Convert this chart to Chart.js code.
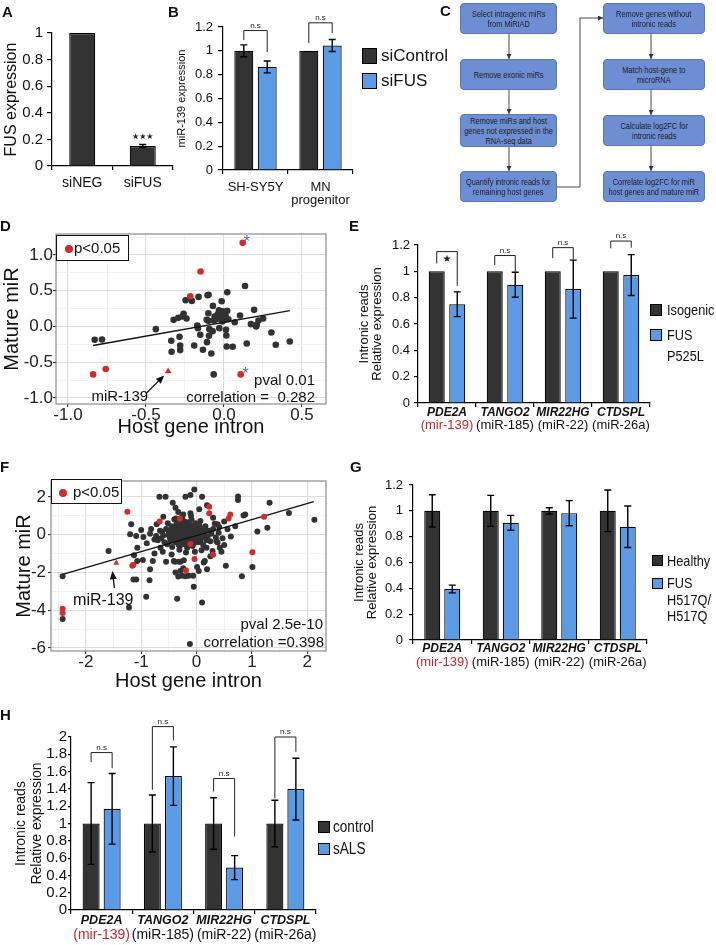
<!DOCTYPE html>
<html>
<head>
<meta charset="utf-8">
<title>FUS and intronic reads</title>
<script src="https://cdn.jsdelivr.net/npm/chart.js@4.4.1/dist/chart.umd.min.js"></script>
<style>
  body { margin: 0; width: 716px; height: 945px; position: relative; overflow: hidden; background: #fff;
         font-family: "Liberation Sans", Arial, sans-serif; color: #111; }
  canvas, .p, .box, .t, .sw, .lg, .dot { position: absolute; }
  .p { font-weight: bold; font-size: 15px; line-height: 15px; }
  .box { background: #6e8ed3; border: 1px solid #5877bd; border-radius: 4px; box-sizing: border-box;
         display: flex; align-items: center; justify-content: center; text-align: center;
         font-size: 8.6px; line-height: 10px; color: #1b1b1b; white-space: nowrap; }
  .box span { display: inline-block; transform: scaleX(0.86); }
  .t { white-space: nowrap; line-height: 1; }
  .sq { transform: scaleX(0.85); transform-origin: left center; }
  .sw { border: 1.2px solid #000; box-sizing: border-box; }
  .lg { border: 1.5px solid #111; background: #fff; box-sizing: border-box; }
  .dot { border-radius: 50%; background: #d42a2a; width: 8px; height: 8px; }
</style>
</head>
<body>

<!-- panel letters -->
<div class="p" style="left:2px;top:4px">A</div>
<div class="p" style="left:168px;top:4px">B</div>
<div class="p" style="left:440px;top:3px">C</div>
<div class="p" style="left:0px;top:218px">D</div>
<div class="p" style="left:349px;top:218px">E</div>
<div class="p" style="left:0px;top:459px">F</div>
<div class="p" style="left:350px;top:459px">G</div>
<div class="p" style="left:0px;top:707px">H</div>

<!-- C: workflow -->
<div class="box" style="left:460px;top:3px;width:97px;height:31px"><span>Select intragenic miRs<br>from MiRIAD</span></div>
<div class="box" style="left:460px;top:59px;width:97px;height:31px"><span>Remove exonic miRs</span></div>
<div class="box" style="left:460px;top:114px;width:97px;height:33px"><span>Remove miRs and host<br>genes not expressed in the<br>RNA-seq data</span></div>
<div class="box" style="left:460px;top:171px;width:97px;height:31px"><span>Quantify intronic reads for<br>remaining host genes</span></div>
<div class="box" style="left:603px;top:3px;width:102px;height:31px"><span>Remove genes without<br>intronic reads</span></div>
<div class="box" style="left:603px;top:59px;width:102px;height:31px"><span>Match host-gene to<br>microRNA</span></div>
<div class="box" style="left:603px;top:115px;width:102px;height:31px"><span>Calculate log2FC for<br>intronic reads</span></div>
<div class="box" style="left:603px;top:171px;width:102px;height:31px"><span>Correlate log2FC for miR<br>host genes and mature miR</span></div>
<svg width="716" height="210" style="position:absolute;left:0;top:0">
  <defs>
    <marker id="ah" markerWidth="5" markerHeight="5" refX="5" refY="2.5" orient="auto" markerUnits="userSpaceOnUse">
      <path d="M0,0 L5,2.5 L0,5 z" fill="#333"/>
    </marker>
  </defs>
  <g stroke="#333" stroke-width="0.9" fill="none" marker-end="url(#ah)">
    <line x1="509" y1="34" x2="509" y2="59"/>
    <line x1="509" y1="90" x2="509" y2="114"/>
    <line x1="509" y1="147" x2="509" y2="171"/>
    <line x1="651" y1="34" x2="651" y2="59"/>
    <line x1="651" y1="90" x2="651" y2="115"/>
    <line x1="651" y1="146" x2="651" y2="171"/>
    <polyline points="557,187 580,187 580,18 603,18"/>
  </g>
</svg>

<!-- legends -->
<div class="sw" style="left:362px;top:48px;width:15px;height:16px;background:#333"></div>
<div class="t" style="left:381px;top:47px;font-size:17px">siControl</div>
<div class="sw" style="left:362px;top:73px;width:15px;height:16px;background:#5b9be6"></div>
<div class="t" style="left:381px;top:72px;font-size:17px">siFUS</div>

<div class="sw" style="left:650px;top:304px;width:12px;height:12px;background:#333"></div>
<div class="t sq" style="left:667px;top:302px;font-size:15px">Isogenic</div>
<div class="sw" style="left:650px;top:329px;width:12px;height:12px;background:#5b9be6"></div>
<div class="t sq" style="left:667px;top:327px;font-size:15px">FUS</div>
<div class="t sq" style="left:667px;top:348px;font-size:15px">P525L</div>

<div class="sw" style="left:652px;top:555px;width:11px;height:11px;background:#333"></div>
<div class="t sq" style="left:667px;top:553px;font-size:15px">Healthy</div>
<div class="sw" style="left:652px;top:578px;width:11px;height:11px;background:#5b9be6"></div>
<div class="t sq" style="left:667px;top:575px;font-size:15px">FUS</div>
<div class="t sq" style="left:667px;top:592px;font-size:15px">H517Q/</div>
<div class="t sq" style="left:667px;top:608px;font-size:15px">H517Q</div>

<div class="sw" style="left:318px;top:821px;width:12px;height:12px;background:#333"></div>
<div class="t sq" style="left:333px;top:819px;font-size:16px">control</div>
<div class="sw" style="left:318px;top:843px;width:12px;height:12px;background:#5b9be6"></div>
<div class="t sq" style="left:333px;top:841px;font-size:16px">sALS</div>

<script>
// ---------- data ----------
// A
const aCats = ['siNEG', 'siFUS'];
const aFus = [1, 0.15];
const aFusErr = [0, 0.012];
const aTicks = [0, 0.2, 0.4, 0.6, 0.8, 1];
// B
const bCats = ['SH-SY5Y', ['MN', 'progenitor']];
const bControl = [1, 1];
const bControlErr = [0.05, 0];
const bSiFus = [0.865, 1.045];
const bSiFusErr = [0.05, 0.05];
const bBrackets = [[1.17, 1.09, 0.99, 'n.s'], [1.235, 1.065, 1.15, 'n.s']];
const relTicks = [0, 0.2, 0.4, 0.6, 0.8, 1, 1.2];
// host genes (E, G, H)
const genes = ['PDE2A', 'TANGO2', 'MIR22HG', 'CTDSPL'];
const hostMirs = ['(mir-139)', '(miR-185)', '(miR-22)', '(miR-26a)'];
// E
const eIsogenic = [1, 1, 1, 1];
const eP525L = [0.75, 0.898, 0.865, 0.972];
const eP525LErr = [0.094, 0.095, 0.22, 0.155];
const eBrackets = [[1.15, 1.06, 0.89, '★'], [1.12, 1.048, 0.997, 'n.s'], [1.18, 1.10, 1.09, 'n.s'], [1.23, 1.175, 1.18, 'n.s']];
// G
const gHealthy = [1, 1, 1, 1];
const gHealthyErr = [0.125, 0.12, 0.024, 0.161];
const gH517Q = [0.395, 0.908, 0.982, 0.877];
const gH517QErr = [0.03, 0.057, 0.097, 0.161];
// H
const hControl = [1, 1, 1, 1];
const hControlErr = [0.473, 0.33, 0.297, 0.268];
const hSals = [1.17, 1.548, 0.49, 1.398];
const hSalsErr = [0.408, 0.338, 0.139, 0.357];
const hBrackets = [[1.82, 1.71, 1.64, 'n.s'], [2.12, 1.39, 1.96, 'n.s'], [1.52, 1.37, 0.85, 'n.s'], [2.0, 1.29, 1.83, 'n.s']];
const hTicks = [0, 0.2, 0.4, 0.6, 0.8, 1, 1.2, 1.4, 1.6, 1.8, 2];

// D scatter (log2FC host gene intron vs mature miR)
const dGrey = [
  [-0.829, -0.186], [-0.782, -0.181], [-0.437, -0.037], [-0.338, -0.2], [-0.336, -0.353], [-0.323, 0.093],
  [-0.293, 0.121], [-0.266, 0.14], [-0.259, 0.177], [-0.24, 0.112], [-0.285, -0.144], [-0.281, -0.265],
  [-0.281, -0.33], [-0.246, 0.367], [-0.206, 0.358], [-0.163, 0.414], [-0.105, 0.437], [-0.099, 0.445],
  [-0.071, 0.288], [-0.015, 0.353], [0.021, 0.479], [0.135, 0.567], [-0.191, -0.265], [-0.135, -0.326],
  [-0.081, -0.377], [-0.152, -0.116], [-0.171, 0.014], [-0.167, -0.023], [-0.111, 0.093], [-0.1, 0.079],
  [-0.096, -0.13], [-0.109, -0.219], [-0.094, -0.037], [-0.066, 0.084], [-0.073, -0.065], [-0.032, 0.228],
  [-0.021, 0.163], [-0.009, 0.214], [-0.036, 0.13], [0.006, 0.13], [0.021, 0.219], [0.011, 0.102],
  [-0.015, 0.093], [0.028, 0.102], [-0.03, -0.023], [0.013, -0.047], [0.015, -0.126], [0.017, -0.279],
  [0.056, -0.284], [0.069, 0.06], [0.103, 0.153], [0.146, -0.237], [0.173, 0.033], [0.193, 0.233],
  [0.206, 0.0], [0.221, 0.084], [0.251, 0.112], [0.304, -0.084], [0.332, -0.256], [0.422, -0.209],
  [-0.066, -0.67], [-0.1, 0.186], [0.21, 0.023], [-0.04, 0.17], [-0.02, 0.12], [0.0, 0.16], [-0.05, 0.1],
  [-0.01, 0.07], [-0.03, 0.19], [0.01, 0.15], [-0.06, 0.14], [-0.02, 0.2], [0.0, 0.11]
];
const dRed = [[0.12, 1.17], [-0.15, 0.77], [-0.216, 0.423], [-0.839, -0.67], [-0.758, -0.595], [0.107, -0.67]];
const dMir139 = [[-0.358, -0.628]];
const dFit = [[-0.839, -0.265], [0.422, 0.222]];
const dStars = [[0.146, 1.233], [0.139, -0.614]];
const dXTicks = [-1.0, -0.75, -0.5, -0.25, 0, 0.25, 0.5];
const dXMajor = [-1.0, -0.5, 0, 0.5];
const dYTicks = [-1.0, -0.75, -0.5, -0.25, 0, 0.25, 0.5, 0.75, 1.0, 1.25];
const dYMajor = [-1.0, -0.5, 0, 0.5, 1.0];

// F scatter
const fGrey = [
  [-0.67, 2.0], [-0.56, 2.0], [-0.2, 2.0], [-0.11, 2.1], [-0.04, 2.39], [0.1, 2.0], [0.75, 2.02], [0.75, 1.83],
  [1.32, 1.69], [1.67, 1.14], [2.13, 0.79], [-0.43, 1.69], [-0.38, 1.43], [-0.33, 1.2], [-0.24, 1.07],
  [-0.11, 1.13], [0.05, 1.34], [0.19, 1.55], [0.33, 0.58], [0.41, 0.4], [0.85, 1.02], [0.88, 1.06],
  [1.1, 0.16], [1.28, 0.37], [1.01, -1.71], [0.82, -2.2], [0.29, -0.86], [0.5, -0.55], [0.36, -0.35],
  [0.47, -0.19], [0.42, -0.69], [0.15, -1.39], [0.19, -1.83], [0.04, -1.92], [-0.05, -2.76], [0.1, -3.59],
  [-0.12, -5.79], [-0.35, -3.4], [-0.33, -2.22], [-0.2, -2.2], [-0.06, -2.18], [-0.29, -1.92], [-0.24, -1.78],
  [-0.39, -1.43], [-0.29, -1.43], [-0.55, -1.43], [-0.61, -0.9], [-0.76, -1.0], [-0.79, -1.39], [-0.84, -1.83],
  [-0.85, -2.41], [-0.91, -3.29], [-1.09, -2.38], [-1.14, -2.38], [-1.22, -3.86], [-1.07, -1.39], [-0.97, -1.34],
  [-1.07, -0.69], [-1.2, 0.02], [-1.09, -0.07], [-0.84, 0.05], [-0.73, -0.07], [-1.59, -0.86], [-2.42, -2.2],
  [-2.42, -4.47], [-1.18, 0.55], [-0.64, -0.19], [-0.53, -0.51], [-0.47, -0.33], [-1.13, -1.09], [-0.96, -0.12],
  [-0.76, -0.26], [-0.4, 0.81], [-0.26, 0.9], [-0.1, 0.99], [0.07, 0.72], [0.56, 0.28], [0.38, 0.55],
  [0.38, -0.42], [0.09, -0.83], [0.18, -0.69], [0.53, -1.65], [0.01, -1.71], [0.13, -1.48], [-0.38, -2.0],
  [-0.26, -2.18], [-0.14, -2.18], [-0.41, -1.39], [-0.32, -1.43], [-0.23, -1.36], [-0.65, -0.69],
  [-0.9, -0.45], [-0.82, 0.3], [-0.72, 0.55], [-0.6, 0.95], [0.3, 0.9], [0.45, -0.9], [0.62, -0.1],
  [0.7, 0.45], [0.25, -1.15], [-0.45, -1.05], [-1.0, 0.25], [0.5, 0.7],
  // dense centre
  [-0.55, 0.3], [-0.5, 0.1], [-0.48, -0.2], [-0.45, 0.45], [-0.42, -0.05], [-0.4, 0.2], [-0.38, -0.4],
  [-0.36, 0.6], [-0.35, 0.05], [-0.33, -0.25], [-0.32, 0.35], [-0.3, -0.6], [-0.29, 0.15], [-0.28, -0.1],
  [-0.27, 0.5], [-0.26, -0.35], [-0.25, 0.25], [-0.24, 0.0], [-0.23, -0.5], [-0.22, 0.7], [-0.21, 0.1],
  [-0.2, -0.2], [-0.19, 0.4], [-0.18, -0.05], [-0.17, -0.7], [-0.16, 0.2], [-0.15, -0.3], [-0.14, 0.55],
  [-0.13, 0.05], [-0.12, -0.45], [-0.11, 0.3], [-0.1, -0.15], [-0.09, 0.8], [-0.08, 0.1], [-0.07, -0.6],
  [-0.06, 0.4], [-0.05, -0.25], [-0.04, 0.15], [-0.03, -0.9], [-0.02, 0.6], [0.0, -0.05], [0.02, 0.3],
  [0.03, -0.4], [0.05, 0.5], [0.06, 0.05], [0.08, -0.2], [0.1, 0.25], [0.12, -0.55], [0.14, 0.1], [0.16, 0.45],
  [0.2, -0.1], [0.22, 0.2], [0.25, -0.35], [-0.6, -0.05], [-0.58, -0.4], [-0.62, 0.15], [-0.52, 0.6],
  [-0.44, -0.65], [-0.37, 0.85], [-0.31, -0.8], [-0.26, 0.95], [-0.19, -0.95], [-0.34, -0.1], [-0.21, 0.3],
  [-0.15, 0.0], [-0.28, 0.05], [-0.12, 0.2], [-0.24, -0.15], [-0.09, -0.3], [-0.17, 0.15], [-0.3, 0.25],
  [0.04, -0.1], [-0.06, 0.0], [-0.4, -0.2], [-0.46, 0.05], [0.18, -0.3], [0.27, 0.05], [0.3, 0.3],
  [-0.66, 0.2], [-0.7, -0.3], [0.35, -0.15], [0.4, 0.1],
  [-0.5, -0.05], [-0.47, 0.25], [-0.43, 0.1], [-0.41, -0.3], [-0.39, 0.4], [-0.37, -0.15], [-0.35, 0.3],
  [-0.33, 0.1], [-0.31, -0.4], [-0.3, 0.45], [-0.28, -0.25], [-0.27, 0.2], [-0.25, -0.05], [-0.23, 0.4],
  [-0.22, -0.3], [-0.2, 0.05], [-0.18, 0.25], [-0.16, -0.15], [-0.14, 0.35], [-0.13, -0.2], [-0.11, 0.1],
  [-0.1, 0.5], [-0.08, -0.1], [-0.07, 0.25], [-0.05, -0.45], [-0.04, 0.35], [-0.02, 0.05], [0.0, 0.2],
  [0.01, -0.25], [0.03, 0.1], [0.06, 0.35], [0.07, -0.35], [0.09, 0.05], [0.11, -0.1], [0.13, 0.3],
  [-0.2, -0.45], [-0.32, -0.55], [-0.15, 0.65], [-0.26, 0.65], [-0.42, 0.35]
];
const fRed = [
  [-1.25, 1.21], [-0.667, 0.7], [0.23, 1.48], [0.23, 1.13], [0.61, 1.06], [0.58, 0.85], [1.22, 0.95],
  [1.01, -0.93], [0.3, -1.07], [-0.036, -1.29], [-0.19, -1.88], [-1.16, -1.65], [-1.14, -1.6],
  [-2.42, -3.92], [-2.42, -4.15], [-0.3, 0.86], [-0.11, -0.49]
];
const fMir139 = [[-1.45, -1.5]];
const fFit = [[-2.42, -2.1], [2.12, 1.75]];
const fXTicks = [-2.5, -2, -1.5, -1, -0.5, 0, 0.5, 1, 1.5, 2];
const fXMajor = [-2, -1, 0, 1, 2];
const fYTicks = [-6, -5, -4, -3, -2, -1, 0, 1, 2];
const fYMajor = [-6, -4, -2, 0, 2];

// ---------- setup ----------
const DARK = '#333333', BLUE = '#5b9be6', RED = '#d42a2a', FONT = '"Liberation Sans", Arial, sans-serif';
Chart.defaults.font.family = FONT;
Chart.defaults.color = '#111';
Chart.defaults.animation = false;
Chart.defaults.plugins.legend.display = false;
Chart.defaults.plugins.tooltip.enabled = false;

function place(rect) {
  const c = document.createElement('canvas');
  c.width = rect[2]; c.height = rect[3];
  c.style.left = rect[0] + 'px'; c.style.top = rect[1] + 'px';
  c.style.width = rect[2] + 'px'; c.style.height = rect[3] + 'px';
  document.body.insertBefore(c, document.body.firstChild);
  return c;
}

// error bars, significance brackets, stars
const annot = {
  id: 'annot',
  afterDatasetsDraw(chart, args, o) {
    const ctx = chart.ctx, ys = chart.scales.y;
    ctx.save();
    ctx.strokeStyle = '#000';
    ctx.lineWidth = 1.4;
    chart.data.datasets.forEach((ds, di) => {
      if (!ds.errors) return;
      chart.getDatasetMeta(di).data.forEach((bar, i) => {
        const e = ds.errors[i];
        if (!e) return;
        const t = ys.getPixelForValue(ds.data[i] + e), b = ys.getPixelForValue(ds.data[i] - e);
        ctx.beginPath();
        ctx.moveTo(bar.x, t); ctx.lineTo(bar.x, b);
        ctx.moveTo(bar.x - 3.5, t); ctx.lineTo(bar.x + 3.5, t);
        ctx.moveTo(bar.x - 3.5, b); ctx.lineTo(bar.x + 3.5, b);
        ctx.stroke();
      });
    });
    ctx.lineWidth = 1;
    ctx.strokeStyle = '#222';
    ctx.fillStyle = '#222';
    ctx.textAlign = 'center';
    (o.brackets || []).forEach((br, i) => {
      const x1 = chart.getDatasetMeta(0).data[i].x, x2 = chart.getDatasetMeta(1).data[i].x;
      const top = ys.getPixelForValue(br[0]);
      ctx.beginPath();
      ctx.moveTo(x1, ys.getPixelForValue(br[1]));
      ctx.lineTo(x1, top); ctx.lineTo(x2, top);
      ctx.lineTo(x2, ys.getPixelForValue(br[2]));
      ctx.stroke();
      if (br[3] === '★') {
        ctx.font = '10px "DejaVu Sans"'; ctx.textBaseline = 'top';
        ctx.fillText(br[3], (x1 + x2) / 2, top + 3);
      } else {
        ctx.font = '8px ' + FONT; ctx.textBaseline = 'bottom';
        ctx.fillText(br[3], (x1 + x2) / 2, top - 1);
      }
    });
    (o.marks || []).forEach(m => {
      const bar = chart.getDatasetMeta(0).data[m[0]];
      ctx.font = '8px "DejaVu Sans"'; ctx.textBaseline = 'bottom';
      ctx.fillText(m[2], bar.x, ys.getPixelForValue(m[1]));
    });
    ctx.restore();
  }
};

// two-line category labels: gene (bold italic) + host miR
const geneLabels = {
  id: 'geneLabels',
  afterDraw(chart, args, o) {
    if (!o.genes) return;
    const ctx = chart.ctx, xs = chart.scales.x, b = chart.chartArea.bottom;
    ctx.save();
    ctx.textAlign = 'center';
    ctx.textBaseline = 'middle';
    o.genes.forEach((g, i) => {
      const px = xs.getPixelForValue(i);
      ctx.font = 'italic bold ' + o.gSize + 'px ' + FONT;
      ctx.fillStyle = '#111';
      ctx.fillText(g, px, b + o.g1);
      ctx.font = o.mSize + 'px ' + FONT;
      ctx.fillStyle = i === 0 ? '#c8262c' : '#111';
      ctx.fillText(o.mirs[i], px, b + o.g2);
    });
    ctx.restore();
  }
};

const fmtNum = v => String(Math.round(v * 100) / 100);

function barChart(rect, area, cfg) {
  const pad = {left: 0, top: area[1] - rect[1], right: rect[0] + rect[2] - area[2], bottom: 0};
  const yW = area[0] - rect[0], xH = rect[1] + rect[3] - area[3];
  return new Chart(place(rect), {
    type: 'bar',
    data: {
      labels: cfg.labels,
      datasets: cfg.sets.map(s => ({
        label: s.label, data: s.data, errors: s.errors, backgroundColor: s.color,
        borderColor: '#000', borderWidth: 1.2, categoryPercentage: cfg.cp, barPercentage: cfg.bp
      }))
    },
    options: {
      responsive: false,
      layout: {padding: pad},
      scales: {
        x: {
          grid: {drawOnChartArea: false, tickLength: 4, color: '#000', lineWidth: 1.2},
          border: {color: '#000', width: 1.2},
          ticks: {display: !cfg.geneLabels, font: {size: cfg.xSize, lineHeight: 1}, padding: cfg.xPad, maxRotation: 0, autoSkip: false},
          afterFit: s => { s.height = xH; }
        },
        y: {
          min: 0, max: cfg.yTicks[cfg.yTicks.length - 1],
          afterBuildTicks: s => { s.ticks = cfg.yTicks.map(v => ({value: v})); },
          ticks: {autoSkip: false, font: {size: cfg.tickSize, lineHeight: 1}, padding: cfg.tickPad, callback: fmtNum},
          grid: {drawOnChartArea: false, tickLength: cfg.tickLen, color: '#000', lineWidth: 1.2},
          border: {color: '#000', width: 1.2},
          title: {display: true, text: cfg.yTitle, font: cfg.titleFont, padding: {top: cfg.titlePad, bottom: 0}},
          afterFit: s => { s.width = yW; }
        }
      },
      plugins: {annot: {brackets: cfg.brackets, marks: cfg.marks}, geneLabels: cfg.geneLabels || {}}
    },
    plugins: [annot, geneLabels]
  });
}

// ggplot-like panel border, arrow label, asterisks and stats text
const deco = {
  id: 'deco',
  afterDatasetsDraw(chart, args, o) {
    const {ctx, chartArea: a, scales: {x, y}} = chart;
    ctx.save();
    ctx.strokeStyle = '#8c8c8c'; ctx.lineWidth = 1.2;
    ctx.strokeRect(a.left, a.top, a.right - a.left, a.bottom - a.top);
    const x0 = x.getPixelForValue(o.arrow[0][0]), y0 = y.getPixelForValue(o.arrow[0][1]);
    const x1 = x.getPixelForValue(o.arrow[1][0]), y1 = y.getPixelForValue(o.arrow[1][1]);
    const ang = Math.atan2(y1 - y0, x1 - x0);
    ctx.strokeStyle = '#111'; ctx.fillStyle = '#111'; ctx.lineWidth = 1.3;
    ctx.beginPath(); ctx.moveTo(x0, y0); ctx.lineTo(x1 - 6 * Math.cos(ang), y1 - 6 * Math.sin(ang)); ctx.stroke();
    ctx.beginPath(); ctx.moveTo(x1, y1);
    ctx.lineTo(x1 - 9 * Math.cos(ang - 0.4), y1 - 9 * Math.sin(ang - 0.4));
    ctx.lineTo(x1 - 9 * Math.cos(ang + 0.4), y1 - 9 * Math.sin(ang + 0.4));
    ctx.closePath(); ctx.fill();
    ctx.font = o.labelSize + 'px ' + FONT; ctx.textAlign = 'center'; ctx.textBaseline = 'middle';
    ctx.fillText(o.label[2], x.getPixelForValue(o.label[0]), y.getPixelForValue(o.label[1]));
    ctx.fillStyle = '#5064c8'; ctx.font = '16px ' + FONT; ctx.textBaseline = 'alphabetic';
    (o.stars || []).forEach(s => ctx.fillText('*', x.getPixelForValue(s[0]), y.getPixelForValue(s[1]) + 9));
    ctx.fillStyle = '#111'; ctx.font = '15px ' + FONT; ctx.textAlign = 'right'; ctx.textBaseline = 'middle';
    o.stats.forEach(s => ctx.fillText(s[0], a.right - s[1], a.bottom - s[2]));
    ctx.restore();
  }
};

function pts(arr) { return arr.map(p => ({x: p[0], y: p[1]})); }

function scatterChart(rect, area, cfg) {
  const pad = {left: 0, top: area[1] - rect[1], right: rect[0] + rect[2] - area[2], bottom: 0};
  const yW = area[0] - rect[0], xH = rect[1] + rect[3] - area[3];
  const isMajor = (list, v) => list.some(m => Math.abs(m - v) < 1e-9);
  const axis = (ticks, major, range, pad2, extra) => Object.assign({
    type: 'linear', min: range[0], max: range[1],
    afterBuildTicks: s => { s.ticks = ticks.map(v => ({value: v})); },
    ticks: {
      autoSkip: false, font: {size: 17, lineHeight: 1}, color: '#222', padding: pad2,
      callback: v => isMajor(major, v) ? cfg.fmt(v) : ''
    },
    grid: {
      color: c => isMajor(major, c.tick.value) ? '#dcdcdc' : '#efefef',
      lineWidth: c => isMajor(major, c.tick.value) ? 1.1 : 0.8,
      tickColor: c => isMajor(major, c.tick.value) ? '#333' : 'rgba(0,0,0,0)',
      tickLength: 3
    },
    border: {display: false}
  }, extra);
  return new Chart(place(rect), {
    type: 'scatter',
    data: {
      datasets: [
        {data: pts(cfg.red), backgroundColor: RED, borderWidth: 0, pointRadius: cfg.r},
        {data: pts(cfg.mir), backgroundColor: RED, borderWidth: 0, pointStyle: 'triangle', pointRadius: cfg.r + 0.6},
        {data: pts(cfg.fit), showLine: true, borderColor: '#111', borderWidth: 1.4, pointRadius: 0},
        {data: pts(cfg.grey), backgroundColor: '#323232', borderWidth: 0, pointRadius: cfg.r}
      ]
    },
    options: {
      responsive: false,
      layout: {padding: pad},
      scales: {
        x: axis(cfg.xTicks, cfg.xMajor, cfg.xRange, cfg.xTickPad, {
          title: {display: true, text: 'Host gene intron', font: {size: 20}, padding: {top: 0, bottom: cfg.xTitlePad}},
          afterFit: s => { s.height = xH; }
        }),
        y: axis(cfg.yTicks, cfg.yMajor, cfg.yRange, cfg.yTickPad, {
          title: {display: true, text: 'Mature miR', font: {size: 20}, padding: {top: cfg.yTitlePad, bottom: 0}},
          afterFit: s => { s.width = yW; }
        })
      },
      plugins: {deco: cfg.deco}
    },
    plugins: [deco]
  });
}

// ---------- A ----------
barChart([0, 0, 180, 210], [52, 33, 173, 166], {
  labels: aCats,
  sets: [{label: 'FUS', data: aFus, errors: aFusErr, color: DARK}],
  cp: 0.86, bp: 0.5, yTicks: aTicks, tickSize: 15, tickPad: 4, tickLen: 5,
  xSize: 14, xPad: 6, yTitle: 'FUS expression', titleFont: {size: 16}, titlePad: 2,
  marks: [[1, 0.185, '★★★']]
});

// ---------- B ----------
barChart([170, 0, 190, 215], [223, 27, 353, 170], {
  labels: bCats,
  sets: [
    {label: 'siControl', data: bControl, errors: bControlErr, color: DARK},
    {label: 'siFUS', data: bSiFus, errors: bSiFusErr, color: BLUE}
  ],
  cp: 0.72, bp: 0.81, yTicks: relTicks, tickSize: 13, tickPad: 5, tickLen: 5,
  xSize: 13, xPad: 7, yTitle: 'miR-139 expression', titleFont: {size: 11}, titlePad: 5,
  brackets: bBrackets
});

// ---------- E ----------
barChart([355, 215, 300, 225], [418, 245, 650, 403], {
  labels: genes,
  sets: [
    {label: 'Isogenic', data: eIsogenic, color: DARK},
    {label: 'FUS P525L', data: eP525L, errors: eP525LErr, color: BLUE}
  ],
  cp: 0.707, bp: 0.78, yTicks: relTicks, tickSize: 13, tickPad: 4, tickLen: 4,
  yTitle: ['Intronic reads', 'Relative expression'], titleFont: {size: 13, lineHeight: 1}, titlePad: 2.5,
  brackets: eBrackets,
  geneLabels: {genes: genes, mirs: hostMirs, gSize: 12, mSize: 13, g1: 10, g2: 22}
});

// ---------- G ----------
barChart([350, 462, 305, 215], [413, 485, 647, 640], {
  labels: genes,
  sets: [
    {label: 'Healthy', data: gHealthy, errors: gHealthyErr, color: DARK},
    {label: 'FUS H517Q/H517Q', data: gH517Q, errors: gH517QErr, color: BLUE}
  ],
  cp: 0.684, bp: 0.8, yTicks: relTicks, tickSize: 13, tickPad: 6, tickLen: 4,
  yTitle: ['Intronic reads', 'Relative expression'], titleFont: {size: 13, lineHeight: 1}, titlePad: 2.5,
  geneLabels: {genes: genes, mirs: hostMirs, gSize: 12, mSize: 13, g1: 9, g2: 22}
});

// ---------- H ----------
barChart([0, 700, 320, 245], [71, 737, 316, 910], {
  labels: genes,
  sets: [
    {label: 'control', data: hControl, errors: hControlErr, color: DARK},
    {label: 'sALS', data: hSals, errors: hSalsErr, color: BLUE}
  ],
  cp: 0.686, bp: 0.81, yTicks: hTicks, tickSize: 15, tickPad: 1, tickLen: 3,
  yTitle: ['Intronic reads', 'Relative expression'], titleFont: {size: 14, lineHeight: 1.19}, titlePad: 12.4,
  brackets: hBrackets,
  geneLabels: {genes: genes, mirs: hostMirs, gSize: 12.5, mSize: 14, g1: 11, g2: 25}
});

// ---------- D ----------
scatterChart([0, 215, 345, 230], [56, 234, 326, 404], {
  grey: dGrey, red: dRed, mir: dMir139, fit: dFit, r: 3.3,
  xTicks: dXTicks, xMajor: dXMajor, yTicks: dYTicks, yMajor: dYMajor,
  xRange: [-1.077, 0.654], yRange: [-1.084, 1.294],
  fmt: v => (Math.abs(v) < 1e-9 ? 0 : v).toFixed(1),
  xTickPad: 0, yTickPad: 0, xTitlePad: 6, yTitlePad: 0,
  deco: {
    arrow: [[-0.497, -0.93], [-0.383, -0.684]], label: [-0.668, -0.986, 'miR-139'], labelSize: 15,
    stars: dStars, stats: [['pval 0.01', 11, 23], ['correlation =  0.282', 11, 6]]
  }
});

// ---------- F ----------
scatterChart([0, 462, 345, 232], [51, 481, 326, 651], {
  grey: fGrey, red: fRed, mir: fMir139, fit: fFit, r: 3.0,
  xTicks: fXTicks, xMajor: fXMajor, yTicks: fYTicks, yMajor: fYMajor,
  xRange: [-2.63, 2.34], yRange: [-6.16, 2.84],
  fmt: v => String(Math.abs(v) < 1e-9 ? 0 : v),
  xTickPad: 0, yTickPad: 2, xTitlePad: 1, yTitlePad: 12,
  deco: {
    arrow: [[-1.485, -2.83], [-1.52, -1.92]], label: [-1.685, -3.47, 'miR-139'], labelSize: 16,
    stars: [], stats: [['pval 2.5e-10', 3, 26], ['correlation =0.398', 2, 8]]
  }
});
</script>

<!-- scatter legends -->
<div class="lg" style="left:56px;top:235px;width:73px;height:26px"></div>
<div class="dot" style="left:65px;top:245px"></div>
<div class="t" style="left:74px;top:240px;font-size:15px">p&lt;0.05</div>
<div class="lg" style="left:51px;top:479px;width:71px;height:25px"></div>
<div class="dot" style="left:59px;top:489px"></div>
<div class="t" style="left:73px;top:484px;font-size:15px">p&lt;0.05</div>
</body>
</html>
